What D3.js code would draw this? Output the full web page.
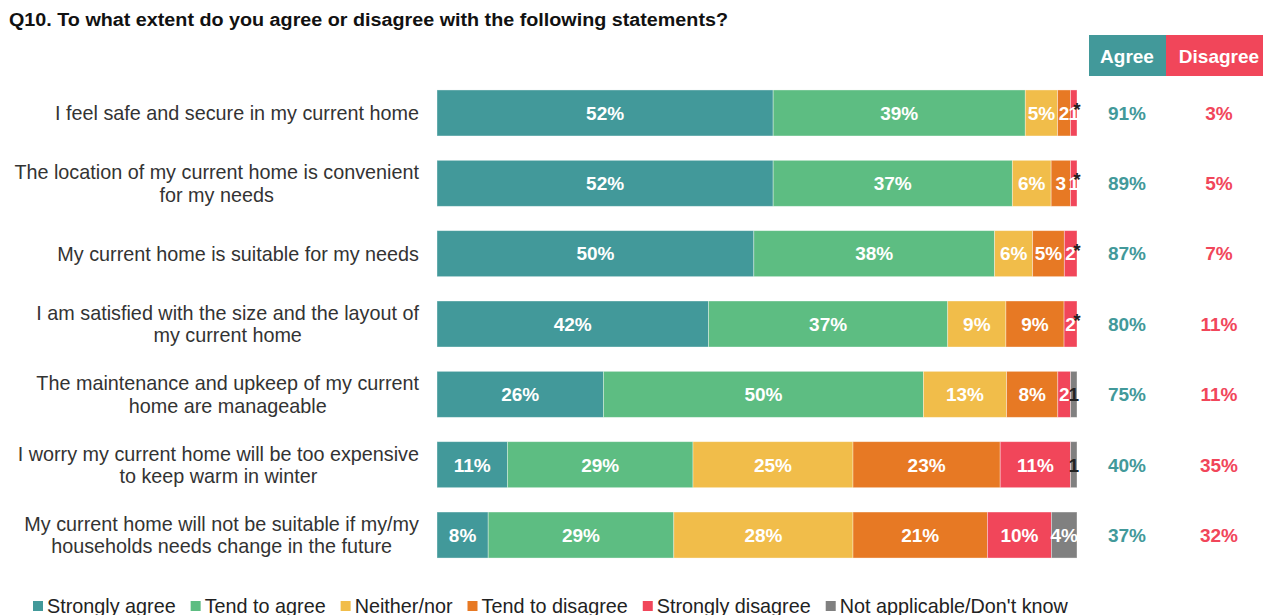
<!DOCTYPE html>
<html>
<head>
<meta charset="utf-8">
<script src="https://cdn.jsdelivr.net/npm/d3@7"></script>
<style>
  html, body { margin: 0; padding: 0; background: #fff; }
  svg { display: block; font-family: "Liberation Sans", Arial, sans-serif; }
</style>
</head>
<body>
<svg id="chart" width="1263" height="615"></svg>
<script>
// Survey statements (line breaks as shown on the chart)
const statements = [
  ["I feel safe and secure in my current home"],
  ["The location of my current home is convenient", "for my needs"],
  ["My current home is suitable for my needs"],
  ["I am satisfied with the size and the layout of", "my current home"],
  ["The maintenance and upkeep of my current", "home are manageable"],
  ["I worry my current home will be too expensive", "to keep warm in winter"],
  ["My current home will not be suitable if my/my", "households needs change in the future"]
];

const responseKeys = ["Strongly agree", "Tend to agree", "Neither/nor", "Tend to disagree", "Strongly disagree", "Not applicable/Don't know"];
const responseColors = ["#42999A", "#5DBD82", "#F1BD4A", "#E77924", "#F1465A", "#808080"];

// Percentage per response, one array per statement
const stronglyAgree    = [52, 52, 50, 42, 26, 11, 8];
const tendToAgree      = [39, 37, 38, 37, 50, 29, 29];
const neitherNor       = [5, 6, 6, 9, 13, 25, 28];
const tendToDisagree   = [2, 3, 5, 9, 8, 23, 21];
const stronglyDisagree = [1, 1, 2, 2, 2, 11, 10];
const notApplicable    = [0, 0, 0, 0, 1, 1, 4];

// Net totals
const agreeTotal    = [91, 89, 87, 80, 75, 40, 37];
const disagreeTotal = [3, 5, 7, 11, 11, 35, 32];

const seriesValues = [stronglyAgree, tendToAgree, neitherNor, tendToDisagree, stronglyDisagree, notApplicable];

const rows = statements.map((s, i) => {
  const r = { idx: i };
  responseKeys.forEach((k, j) => { r[k] = seriesValues[j][i]; });
  return r;
});

const svg = d3.select("#chart");
const FONT = 19;
const LABEL_FONT = 19.8;

const x = d3.scaleLinear().domain([0, 1]).range([437, 1077]);
const y = d3.scaleBand()
  .domain(d3.range(statements.length))
  .range([77.8, 570.2])
  .paddingInner(0.346)
  .paddingOuter(0.173);

const color = d3.scaleOrdinal().domain(responseKeys).range(responseColors);

const stacked = d3.stack().keys(responseKeys).offset(d3.stackOffsetExpand)(rows);

// Title
svg.append("text")
  .attr("x", 9).attr("y", 26)
  .attr("font-size", 18).attr("font-weight", "bold").attr("fill", "#111")
  .attr("textLength", 719).attr("lengthAdjust", "spacingAndGlyphs")
  .text("Q10. To what extent do you agree or disagree with the following statements?");

// Bars
const layers = svg.append("g").selectAll("g")
  .data(stacked).join("g")
  .attr("fill", d => color(d.key));

layers.selectAll("rect")
  .data(d => d).join("rect")
  .attr("x", d => x(d[0]))
  .attr("y", d => y(d.data.idx))
  .attr("width", d => Math.max(0, x(d[1]) - x(d[0])))
  .attr("height", y.bandwidth())
  .attr("stroke", "#fff").attr("stroke-opacity", 0.45).attr("stroke-width", 0.8);

// Segment labels
function fmt(v) {
  if (v === 0) return "*";
  return v >= 4 ? v + "%" : String(v);
}
stacked.forEach((layer) => {
  const key = layer.key;
  svg.append("g").selectAll("text")
    .data(layer).join("text")
    .attr("x", d => (x(d[0]) + x(d[1])) / 2)
    .attr("y", d => y(d.data.idx) + y.bandwidth() / 2)
    .attr("dy", d => d.data[key] === 0 ? "0.15em" : "0.36em")
    .attr("text-anchor", "middle")
    .attr("font-size", FONT).attr("font-weight", "bold")
    .attr("fill", d => (key === "Not applicable/Don't know" && d.data[key] <= 1) ? "#222" : "#fff")
    .text(d => fmt(d.data[key]));
});

// Category labels: block right-aligned, lines centred on each other
const labelRight = 419;
const lineGap = 22.5;
statements.forEach((lines, i) => {
  const g = svg.append("g");
  const cy = y(i) + y.bandwidth() / 2;
  const texts = lines.map((ln, k) => g.append("text")
    .attr("font-size", LABEL_FONT).attr("fill", "#333")
    .attr("text-anchor", "middle")
    .attr("y", cy + (k - (lines.length - 1) / 2) * lineGap)
    .attr("dy", "0.36em")
    .text(ln));
  const w = d3.max(texts, t => t.node().getComputedTextLength());
  texts.forEach(t => t.attr("x", labelRight - w / 2));
});

// Net columns
const agreeX = 1127, disagreeX = 1219;
svg.append("rect").attr("x", 1089).attr("y", 35).attr("width", 77).attr("height", 41).attr("fill", responseColors[0]);
svg.append("rect").attr("x", 1166).attr("y", 35).attr("width", 100).attr("height", 41).attr("fill", responseColors[4]);
svg.append("text").attr("x", agreeX).attr("y", 56).attr("dy", "0.36em").attr("text-anchor", "middle")
  .attr("font-size", FONT).attr("font-weight", "bold").attr("fill", "#fff").text("Agree");
svg.append("text").attr("x", disagreeX).attr("y", 56).attr("dy", "0.36em").attr("text-anchor", "middle")
  .attr("font-size", FONT).attr("font-weight", "bold").attr("fill", "#fff").text("Disagree");

svg.append("g").selectAll("text").data(agreeTotal).join("text")
  .attr("x", agreeX).attr("y", (d, i) => y(i) + y.bandwidth() / 2).attr("dy", "0.36em")
  .attr("text-anchor", "middle").attr("font-size", FONT).attr("font-weight", "bold")
  .attr("fill", responseColors[0]).text(d => d + "%");
svg.append("g").selectAll("text").data(disagreeTotal).join("text")
  .attr("x", disagreeX).attr("y", (d, i) => y(i) + y.bandwidth() / 2).attr("dy", "0.36em")
  .attr("text-anchor", "middle").attr("font-size", FONT).attr("font-weight", "bold")
  .attr("fill", responseColors[4]).text(d => d + "%");

// Legend
const legend = svg.append("g");
let lx = 33;
responseKeys.forEach((k, j) => {
  legend.append("rect").attr("x", lx).attr("y", 601).attr("width", 10).attr("height", 10).attr("fill", responseColors[j]);
  const t = legend.append("text").attr("x", lx + 14).attr("y", 613)
    .attr("font-size", 19.8).attr("fill", "#222").text(k);
  lx += 14 + t.node().getComputedTextLength() + 15;
});
</script>
</body>
</html>
